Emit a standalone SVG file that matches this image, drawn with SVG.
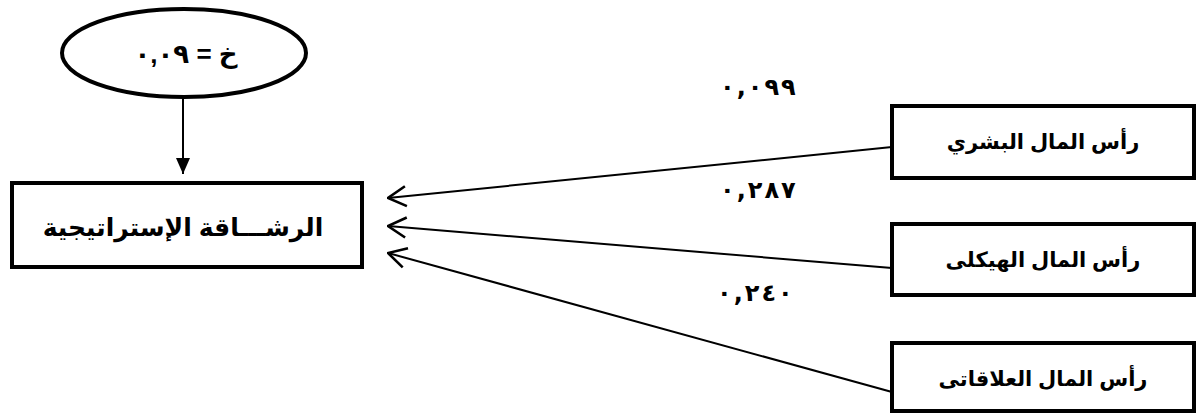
<svg xmlns="http://www.w3.org/2000/svg" width="1196" height="414" viewBox="0 0 1196 414">
<style>
.box{fill:#fff;stroke:#000;stroke-width:4}
.lbl{font-family:"Liberation Sans","DejaVu Sans",Arial,sans-serif;font-weight:bold;fill:#000}
.num{font-family:"DejaVu Sans",sans-serif;font-weight:bold;fill:#000;font-size:24px}
.con{stroke:#000;stroke-width:2;fill:none}
</style>
<defs>
<marker id="open" viewBox="0 0 22 24" refX="21" refY="12" markerWidth="22" markerHeight="24" markerUnits="userSpaceOnUse" orient="auto">
<path d="M3,2 L21,12 L3,22" fill="none" stroke="#000" stroke-width="2.6"/>
</marker>
<marker id="tri" viewBox="0 0 14 16" refX="7" refY="16" markerWidth="14" markerHeight="16" markerUnits="userSpaceOnUse" orient="0">
<path d="M0,0 L14,0 L7,16 Z" fill="#000"/>
</marker>
</defs>
<rect width="1196" height="414" fill="#fff"/>
<g id="connectors">
<line class="con" x1="183" y1="98" x2="183" y2="174" marker-end="url(#tri)"/>
<line class="con" x1="892" y1="147" x2="388" y2="198" marker-end="url(#open)"/>
<line class="con" x1="892" y1="268" x2="388" y2="226" marker-end="url(#open)"/>
<line class="con" x1="892" y1="392" x2="388" y2="253" marker-end="url(#open)"/>
<text class="num" x="720" y="95" dx="0 2 2 2 2">٠,٠٩٩</text>
<text class="num" x="720" y="198" dx="0 2 2 2 2">٠,٢٨٧</text>
<text class="num" x="717" y="301" dx="0 2 2 2 2">٠,٢٤٠</text>
</g>
<g id="n-ellipse">
<ellipse cx="184" cy="53" rx="122" ry="44" fill="#fff" stroke="#000" stroke-width="4"/>
<text class="lbl" x="186" y="63" font-size="26" text-anchor="middle" direction="rtl">خ = ٠,٠٩</text>
</g>
<g id="n-agility">
<rect class="box" x="12" y="183" width="350" height="84"/>
<text class="lbl" x="183" y="236" font-size="25" text-anchor="middle" direction="rtl">الرشـــاقة الإستراتيجية</text>
</g>
<g id="n-human">
<rect class="box" x="892" y="106" width="302" height="72"/>
<text class="lbl" x="1043" y="149" font-size="21" text-anchor="middle" direction="rtl">رأس المال البشري</text>
</g>
<g id="n-structural">
<rect class="box" x="892" y="224" width="302" height="71"/>
<text class="lbl" x="1043" y="267" font-size="21" text-anchor="middle" direction="rtl">رأس المال الهيكلى</text>
</g>
<g id="n-relational">
<rect class="box" x="892" y="343" width="302" height="68"/>
<text class="lbl" x="1043" y="386" font-size="21" text-anchor="middle" direction="rtl">رأس المال العلاقاتى</text>
</g>
</svg>
